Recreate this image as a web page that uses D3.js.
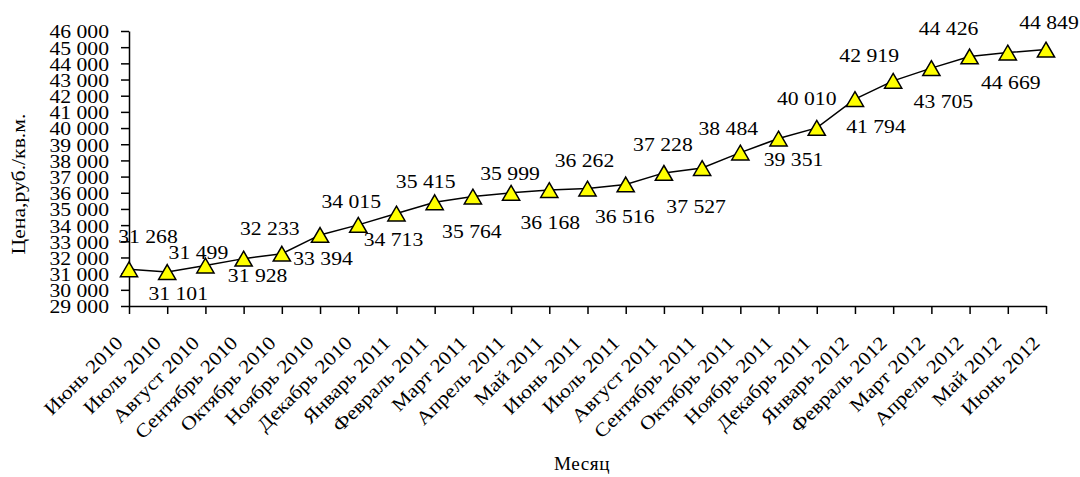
<!DOCTYPE html>
<html>
<head>
<meta charset="utf-8">
<script src="https://cdn.jsdelivr.net/npm/d3@7"></script>
<style>
  html, body { margin: 0; padding: 0; background: #fff; }
  svg { display: block; }
  text { font-family: "Liberation Serif", "Times New Roman", serif; fill: #000; }
</style>
</head>
<body>
<svg id="chart" width="1080" height="477"></svg>
<script>
// Average price per square metre, by month
const months = [
  "Июнь 2010", "Июль 2010", "Август 2010", "Сентябрь 2010", "Октябрь 2010",
  "Ноябрь 2010", "Декабрь 2010", "Январь 2011", "Февраль 2011", "Март 2011",
  "Апрель 2011", "Май 2011", "Июнь 2011", "Июль 2011", "Август 2011",
  "Сентябрь 2011", "Октябрь 2011", "Ноябрь 2011", "Декабрь 2011", "Январь 2012",
  "Февраль 2012", "Март 2012", "Апрель 2012", "Май 2012", "Июнь 2012"
];
const prices = [
  31268, 31101, 31499, 31928, 32233, 33394, 34015, 34713, 35415, 35764,
  35999, 36168, 36262, 36516, 37228, 37527, 38484, 39351, 40010, 41794,
  42919, 43705, 44426, 44669, 44849
];
const yTicks = d3.range(29000, 46001, 1000);
const yTitle = "Цена,руб./кв.м.";
const xTitle = "Месяц";

// Placement of each value label relative to its marker: [dx of centre, dy of baseline]
const labelOffsets = [
  [19, -26], [11, 28], [-7, -7], [14, 23], [-12, -19], [3, 30], [-7, -17],
  [-3, 32], [-9, -14], [-1, 41], [-1, -13], [1, 39], [-3, -22], [-1, 39],
  [-1, -22], [-6, 45], [-12, -18], [15, 27], [-10, -23], [21, 34], [-24, -19],
  [12, 40], [-21, -21], [3, 36], [3, -21]
];

const fontSize = 19.2;
const stretch = 1.13;

const svg = d3.select("#chart");
const x = d3.scalePoint().domain(months).range([129, 1046]);
const y = d3.scaleLinear().domain([29000, 46000]).range([306, 31]);

const fmt = v => d3.format(",")(v).replace(/,/g, " ");

// Y axis
const yAxis = svg.append("g")
  .attr("transform", `translate(${x.range()[0]},0)`)
  .call(d3.axisLeft(y).tickValues(yTicks).tickSize(8).tickPadding(12).tickFormat(fmt).tickSizeOuter(0));
yAxis.select(".domain").attr("stroke", "#000").attr("stroke-width", 1.5);
yAxis.selectAll(".tick line").attr("stroke", "#000").attr("stroke-width", 1.5);
yAxis.selectAll(".tick text")
  .classed("wide", true)
  .attr("font-family", null).attr("font-size", fontSize).attr("dy", "0.36em");

// X axis
const xAxis = svg.append("g")
  .attr("transform", `translate(0,${y.range()[0]})`)
  .call(d3.axisBottom(x).tickSize(8).tickSizeOuter(0).tickFormat(""));
xAxis.select(".domain").attr("stroke", "#000").attr("stroke-width", 1.5);
xAxis.selectAll(".tick line").attr("stroke", "#000").attr("stroke-width", 1.5);

svg.append("g").selectAll("text")
  .data(months)
  .join("text")
  .classed("wide", true)
  .attr("transform", d => `translate(${x(d) - 5},${y.range()[0] + 38}) rotate(-45)`)
  .attr("text-anchor", "end")
  .attr("font-size", fontSize)
  .text(d => d);

// Line
svg.append("path")
  .datum(prices)
  .attr("fill", "none")
  .attr("stroke", "#000")
  .attr("stroke-width", 1.5)
  .attr("d", d3.line().x((d, i) => x(months[i])).y(d => y(d)));

// Triangle markers
const tri = (w, h) => {
  const p = d3.path();
  p.moveTo(0, -h); p.lineTo(w, h); p.lineTo(-w, h); p.closePath();
  return p.toString();
};
svg.append("g").selectAll("path")
  .data(prices)
  .join("path")
  .attr("transform", (d, i) => `translate(${x(months[i])},${y(d)})`)
  .attr("d", tri(8.6, 7.4))
  .attr("fill", "#ffff00")
  .attr("stroke", "#000")
  .attr("stroke-width", 1.5)
  .attr("stroke-linejoin", "miter");

// Value labels
svg.append("g").selectAll("text")
  .data(prices)
  .join("text")
  .classed("wide", true)
  .attr("x", (d, i) => x(months[i]) + labelOffsets[i][0])
  .attr("y", (d, i) => y(d) + labelOffsets[i][1])
  .attr("text-anchor", "middle")
  .attr("font-size", fontSize)
  .text(fmt);

// Axis titles
svg.append("text")
  .classed("wide", true)
  .attr("transform", `translate(25,184) rotate(-90)`)
  .attr("text-anchor", "middle")
  .attr("font-size", fontSize)
  .text(yTitle);

svg.append("text")
  .attr("x", 582).attr("y", 470)
  .attr("text-anchor", "middle")
  .attr("font-size", fontSize)
  .attr("letter-spacing", 0.5)
  .text(xTitle);

// Widen glyphs slightly, as the typeface is set a little wide
svg.selectAll("text.wide").each(function () {
  const w = this.getComputedTextLength();
  if (w > 0) {
    this.setAttribute("textLength", (w * stretch).toFixed(2));
    this.setAttribute("lengthAdjust", "spacingAndGlyphs");
  }
});
</script>
</body>
</html>
